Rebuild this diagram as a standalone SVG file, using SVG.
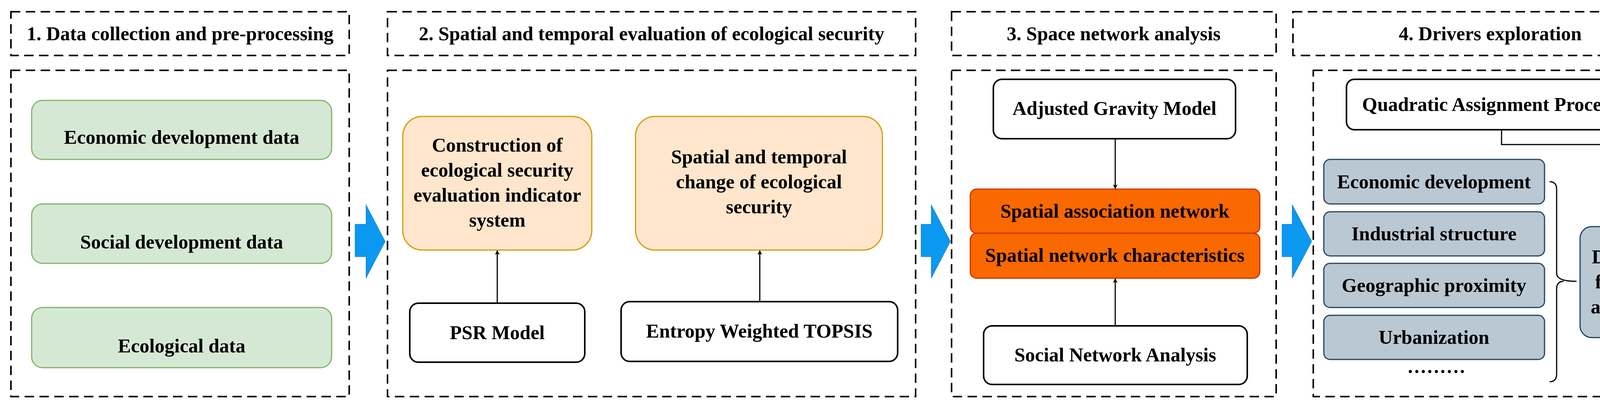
<svg xmlns="http://www.w3.org/2000/svg" width="4331" height="1034" viewBox="0 0 4331 1034">
<defs>
<style>
.dash{fill:none;stroke:#000;stroke-width:4;stroke-dasharray:24 14}
.t{font-family:"Liberation Serif","Times New Roman",serif;font-weight:bold;font-size:50px;text-anchor:middle;fill:#000}
.h{font-size:50px}
.g{fill:#d5e8d4;stroke:#82b366;stroke-width:3}
.o{fill:#ffe6cc;stroke:#d79b00;stroke-width:3}
.r{fill:#fa6800;stroke:#c73500;stroke-width:3}
.b{fill:#bac8d3;stroke:#23445d;stroke-width:3}
.w{fill:#fff;stroke:#000;stroke-width:4}
.ln{fill:none;stroke:#000;stroke-width:3}
.ba{fill:#0a98f0;stroke:#0a6fb8;stroke-width:1}
</style>
<marker id="ah" markerWidth="12" markerHeight="12" refX="10" refY="6" orient="auto" markerUnits="userSpaceOnUse" viewBox="0 0 12 12"><path d="M0,0 L12,6 L0,12 L3,6 Z" fill="#000"/></marker>
</defs>
<rect width="4331" height="1034" fill="#fff"/>
<g id="panels">
<rect class="dash" x="28" y="30" width="866" height="112"/>
<rect class="dash" x="28" y="180" width="866" height="835"/>
<rect class="dash" x="992" y="30" width="1352" height="112"/>
<rect class="dash" x="992" y="180" width="1352" height="835"/>
<rect class="dash" x="2436" y="30" width="831" height="112"/>
<rect class="dash" x="2436" y="180" width="831" height="835"/>
<rect class="dash" x="3310" y="30" width="1011" height="112"/>
<rect class="dash" x="3362" y="180" width="959" height="835"/>
<text class="t h" x="461" y="103">1. Data collection and pre-processing</text>
<text class="t h" x="1668" y="103">2. Spatial and temporal evaluation of ecological security</text>
<text class="t h" x="2851" y="103">3.  Space network analysis</text>
<text class="t h" x="3815" y="103">4.  Drivers exploration</text>
</g>
<g id="arrows-big">
<path class="ba" d="M909,574 H937 V524 L986,618 L937,712 V657 H909 Z"/>
<path class="ba" d="M2358,574 H2384 V524 L2433,618 L2384,712 V657 H2358 Z"/>
<path class="ba" d="M3282,574 H3308 V524 L3358,618 L3308,712 V657 H3282 Z"/>
</g>
<g id="n-econ"><rect class="g" x="81" y="257" width="768" height="151" rx="28"/><text class="t" x="465" y="368">Economic development data</text></g>
<g id="n-social"><rect class="g" x="81" y="522" width="768" height="152" rx="28"/><text class="t" x="465" y="636">Social development data</text></g>
<g id="n-eco"><rect class="g" x="81" y="787" width="768" height="154" rx="28"/><text class="t" x="465" y="902">Ecological data</text></g>
<g id="n-constr"><rect class="o" x="1031" y="298" width="484" height="342" rx="50"/>
<text class="t" x="1273" y="388">Construction of</text><text class="t" x="1273" y="452">ecological security</text><text class="t" x="1273" y="516">evaluation indicator</text><text class="t" x="1273" y="580">system</text></g>
<g id="n-change"><rect class="o" x="1627" y="298" width="632" height="342" rx="50"/>
<text class="t" x="1943" y="418">Spatial and temporal</text><text class="t" x="1943" y="482">change of ecological</text><text class="t" x="1943" y="546">security</text></g>
<g id="n-psr"><rect class="w" x="1049" y="776" width="448" height="151" rx="22"/><text class="t" x="1273" y="868">PSR Model</text></g>
<g id="n-topsis"><rect class="w" x="1590" y="772" width="708" height="153" rx="22"/><text class="t" x="1944" y="864">Entropy Weighted TOPSIS</text></g>
<g id="n-gravity"><rect class="w" x="2543" y="203" width="620" height="152" rx="22"/><text class="t" x="2853" y="294">Adjusted Gravity Model</text></g>
<g id="n-assoc"><rect class="r" x="2484" y="484" width="741" height="113" rx="16"/><text class="t" x="2854" y="557">Spatial association network</text></g>
<g id="n-char"><rect class="r" x="2484" y="597" width="741" height="115" rx="16"/><text class="t" x="2854" y="670">Spatial network characteristics</text></g>
<g id="n-sna"><rect class="w" x="2518" y="834" width="675" height="150" rx="22"/><text class="t" x="2855" y="925">Social Network Analysis</text></g>
<g id="n-qap"><rect class="w" x="3447" y="203" width="792" height="129" rx="20"/><text class="t" x="3843" y="284">Quadratic Assignment Procedure</text></g>
<g id="n-f1"><rect class="b" x="3389" y="408" width="565" height="114" rx="16"/><text class="t" x="3671" y="482">Economic development</text></g>
<g id="n-f2"><rect class="b" x="3389" y="542" width="565" height="113" rx="16"/><text class="t" x="3671" y="615">Industrial structure</text></g>
<g id="n-f3"><rect class="b" x="3389" y="674" width="565" height="113" rx="16"/><text class="t" x="3671" y="747">Geographic proximity</text></g>
<g id="n-f4"><rect class="b" x="3389" y="807" width="565" height="113" rx="16"/><text class="t" x="3671" y="880">Urbanization</text></g>
<g id="n-dots"><text class="t" x="3677" y="968">·········</text></g>
<g id="n-driving"><rect class="b" x="4045" y="580" width="224" height="284" rx="30"/>
<text class="t" x="4157" y="674">Driving</text><text class="t" x="4157" y="738">factors</text><text class="t" x="4157" y="802">analysis</text></g>
<g id="connectors">
<line class="ln" x1="1273" y1="776" x2="1273" y2="642" marker-end="url(#ah)"/>
<line class="ln" x1="1945" y1="772" x2="1945" y2="642" marker-end="url(#ah)"/>
<line class="ln" x1="2855" y1="355" x2="2855" y2="482" marker-end="url(#ah)"/>
<line class="ln" x1="2855" y1="834" x2="2855" y2="714" marker-end="url(#ah)"/>
<path class="ln" d="M3844,332 V370 H4156 V578" marker-end="url(#ah)"/>
<path class="ln" d="M3967,465 Q3985,465 3985,485 V700 Q3985,720 4036,720 M4003,720 Q3985,720 3985,740 V957 Q3985,977 3967,977"/>
</g>
</svg>
